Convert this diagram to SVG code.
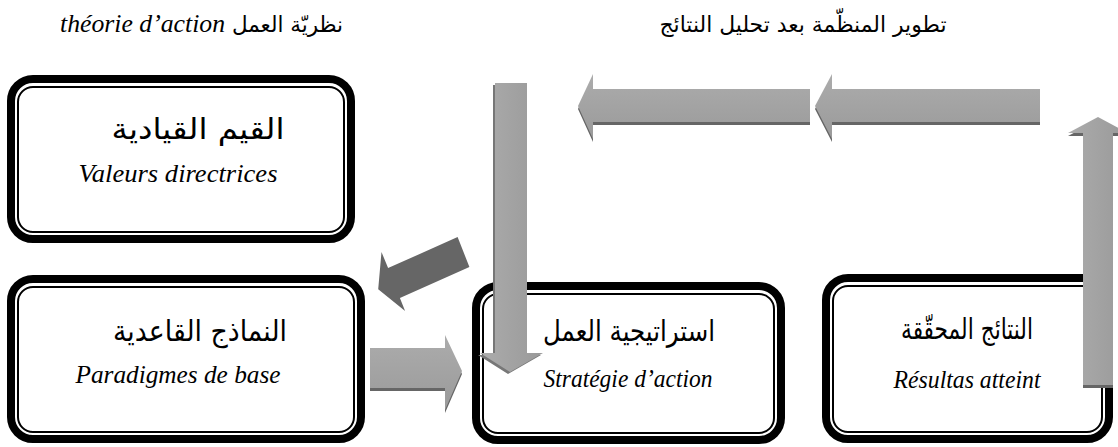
<svg xmlns="http://www.w3.org/2000/svg" width="1118" height="447" viewBox="0 0 1118 447">
<style>
.outer{fill:#fff;stroke:#000;stroke-width:8}
.inner{fill:none;stroke:#000;stroke-width:2}
.ar{font-family:"DejaVu Sans",sans-serif;font-size:29px;fill:#000;text-anchor:middle}
.la{font-family:"Liberation Serif",serif;font-style:italic;font-size:26px;fill:#000;text-anchor:middle}
.tar{font-family:"DejaVu Sans",sans-serif;font-size:22px;fill:#000}
.shadow{fill:#666}
.dark{fill:#666}
</style>
<defs>
<linearGradient id="gv" x1="0" y1="0" x2="0" y2="1">
<stop offset="0" stop-color="#acacac"/><stop offset="1" stop-color="#9a9a9a"/>
</linearGradient>
<linearGradient id="gh" x1="0" y1="0" x2="1" y2="0">
<stop offset="0" stop-color="#acacac"/><stop offset="1" stop-color="#999"/>
</linearGradient>
</defs>
<rect width="1118" height="447" fill="#fff"/>
<g id="titles">
<text x="60" y="32" textLength="165" lengthAdjust="spacingAndGlyphs" style="font-family:'Liberation Serif',serif;font-style:italic;font-size:26px">théorie d’action</text>
<text class="tar" x="343" y="32" text-anchor="end" textLength="111" lengthAdjust="spacingAndGlyphs">نظريّة العمل</text>
<text class="tar" x="803" y="32" text-anchor="middle" textLength="287" lengthAdjust="spacingAndGlyphs">تطوير المنظّمة بعد تحليل النتائج</text>
</g>
<g id="node-valeurs">
<rect class="outer" x="11" y="79" width="340" height="160" rx="22"/>
<rect class="inner" x="18" y="87" width="326" height="145" rx="15"/>
<text class="ar" x="198" y="139" textLength="173" lengthAdjust="spacingAndGlyphs">القيم القيادية</text>
<text class="la" x="178" y="182" textLength="199" lengthAdjust="spacingAndGlyphs">Valeurs directrices</text>
</g>
<g id="node-paradigmes">
<rect class="outer" x="11" y="279" width="350" height="160" rx="22"/>
<rect class="inner" x="18" y="287" width="336" height="145" rx="15"/>
<text class="ar" x="200" y="341" textLength="174" lengthAdjust="spacingAndGlyphs">النماذج القاعدية</text>
<text class="la" x="178" y="383" textLength="205" lengthAdjust="spacingAndGlyphs">Paradigmes de base</text>
</g>
<g id="node-strategie">
<rect class="outer" x="476" y="286" width="305" height="154" rx="22"/>
<rect class="inner" x="483" y="294" width="291" height="139" rx="15"/>
<text class="ar" x="629" y="341" textLength="172" lengthAdjust="spacingAndGlyphs">استراتيجية العمل</text>
<text class="la" x="628" y="387" textLength="169" lengthAdjust="spacingAndGlyphs">Stratégie d’action</text>
</g>
<g id="node-resultats">
<rect class="outer" x="826" y="278" width="283" height="161" rx="22"/>
<rect class="inner" x="833" y="286" width="269" height="146" rx="15"/>
<text class="ar" x="967" y="339" textLength="132" lengthAdjust="spacingAndGlyphs">النتائج المحقّقة</text>
<text class="la" x="967" y="388" textLength="147" lengthAdjust="spacingAndGlyphs">Résultas atteint</text>
</g>
<g id="connectors">
<polygon class="shadow" transform="translate(0,3)" points="815,106 832,74 832,89 1040,89 1040,122 832,122 832,139"/>
<polygon fill="url(#gv)" points="815,106 832,74 832,89 1040,89 1040,122 832,122 832,139"/>
<polygon class="shadow" transform="translate(0,3)" points="578,106 593,74 593,89 810,89 810,122 593,122 593,139"/>
<polygon fill="url(#gv)" points="578,106 593,74 593,89 810,89 810,122 593,122 593,139"/>
<polygon class="shadow" transform="translate(0,3)" points="1098,117 1128,133 1113,133 1113,385 1083,385 1083,133 1068,133"/>
<polygon fill="url(#gh)" points="1098,117 1128,133 1113,133 1113,385 1083,385 1083,133 1068,133"/>
<polygon fill="#777" transform="translate(-2,2)" points="495,83 527,83 527,353 543,353 510,372 480,353 495,353"/>
<polygon fill="url(#gh)" points="495,83 527,83 527,353 543,353 510,372 480,353 495,353"/>
<polygon class="shadow" transform="translate(0,3)" points="370,348 445,348 445,335 462,371 445,410 445,388 370,388"/>
<polygon fill="url(#gv)" points="370,348 445,348 445,335 462,371 445,410 445,388 370,388"/>
<polygon class="dark" points="457.6,237.1 388.1,268.1 381.5,252 378.2,289.3 405.1,310.9 399.9,297.9 469.4,266.9"/>
</g>
</svg>
